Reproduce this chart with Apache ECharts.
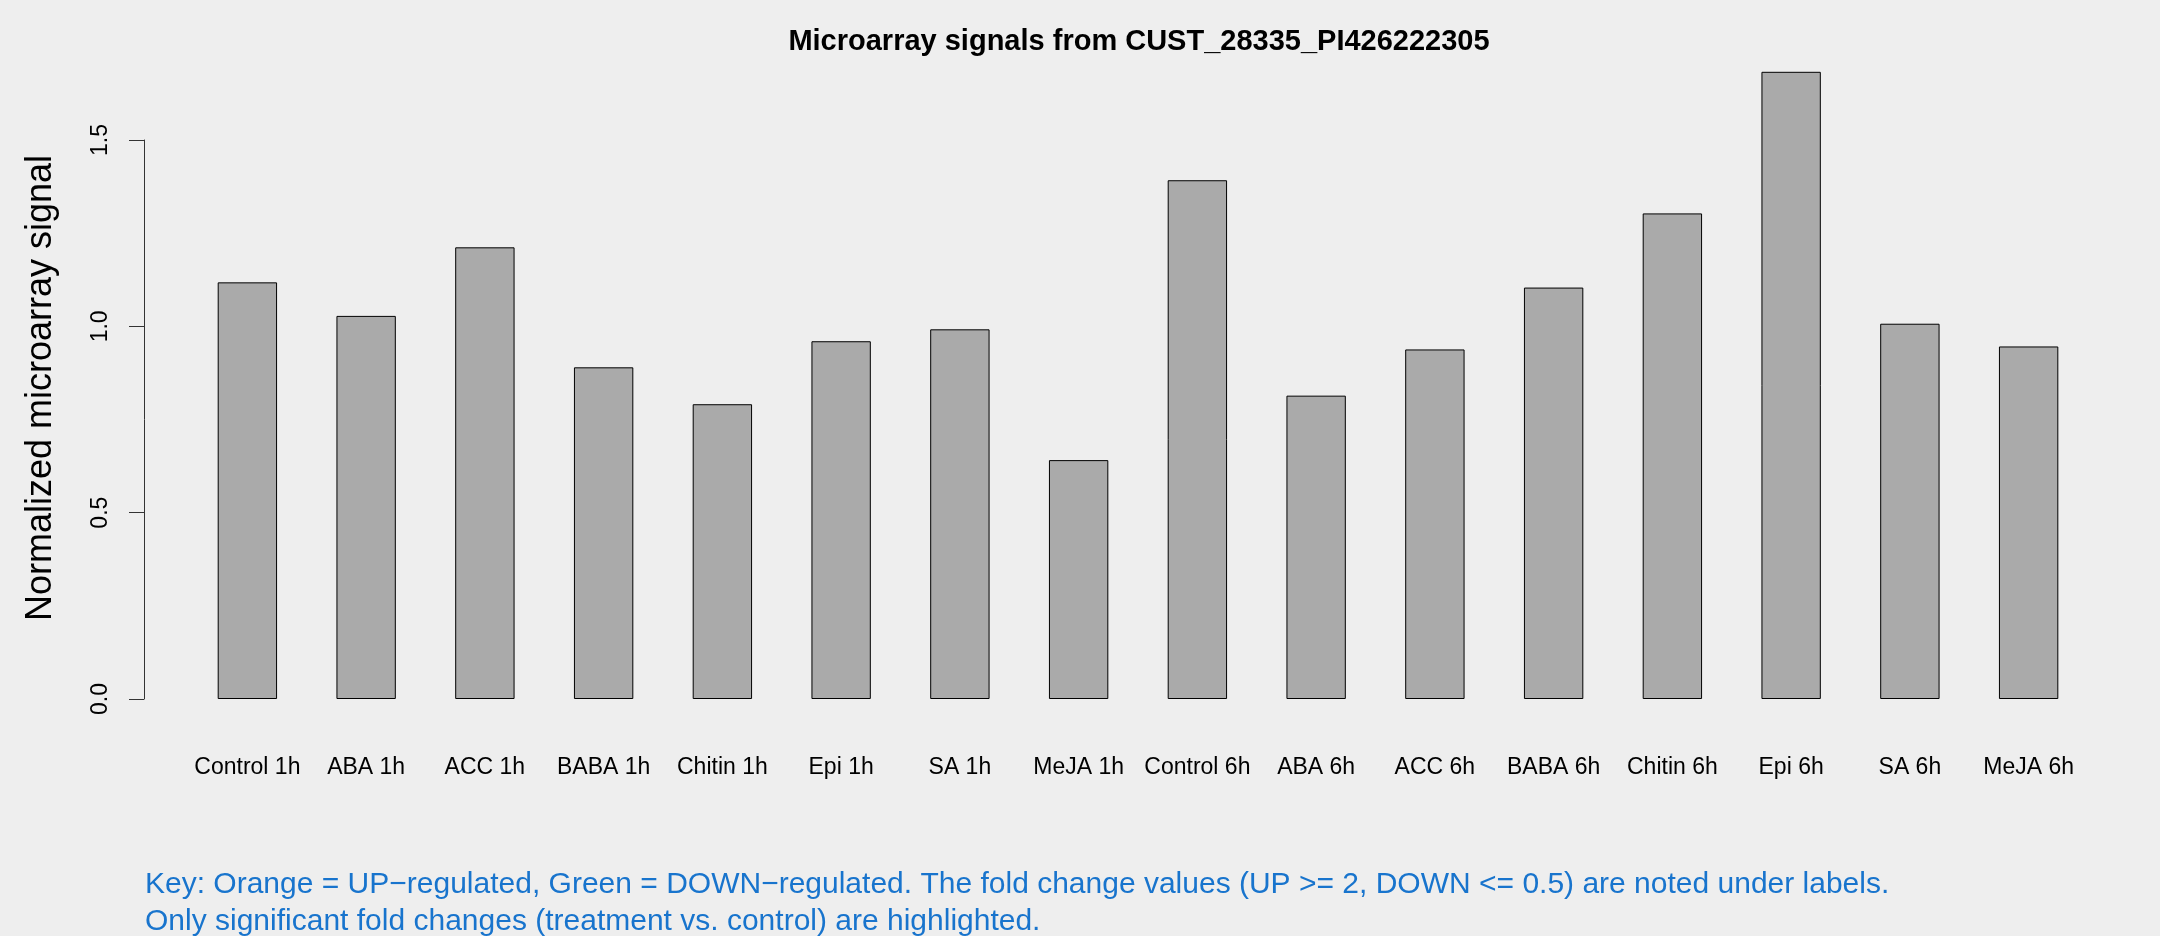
<!DOCTYPE html>
<html>
<head>
<meta charset="utf-8">
<script src="https://cdn.jsdelivr.net/npm/echarts@6/dist/echarts.min.js"></script>
<style>
html,body{margin:0;padding:0;background:#EEEEEE;}
#chart{width:2160px;height:936px;}
</style>
</head>
<body>
<div id="chart"></div>
<script>
const categories = ["Control 1h","ABA 1h","ACC 1h","BABA 1h","Chitin 1h","Epi 1h","SA 1h","MeJA 1h",
  "Control 6h","ABA 6h","ACC 6h","BABA 6h","Chitin 6h","Epi 6h","SA 6h","MeJA 6h"];
const signalValues = [1.118,1.028,1.212,0.890,0.791,0.960,0.992,0.641,
  1.392,0.814,0.938,1.104,1.303,1.683,1.007,0.946];
const yTicks = [0.0,0.5,1.0,1.5];
const titleText = "Microarray signals from CUST_28335_PI426222305";
const yTitle = "Normalized microarray signal";
const keyLines = [
  "Key: Orange = UP\u2212regulated, Green = DOWN\u2212regulated. The fold change values (UP >= 2, DOWN <= 0.5) are noted under labels.",
  "Only significant fold changes (treatment vs. control) are highlighted."
];

const FONT = "'Liberation Sans', Arial, Helvetica, sans-serif";
const chart = echarts.init(document.getElementById('chart'), null, {renderer:'canvas'});
chart.setOption({
  backgroundColor: '#EEEEEE',
  animation: false,
  textStyle: {fontFamily: FONT},
  title: {
    text: titleText,
    left: 1134, top: 22, textAlign: 'center',
    textStyle: {fontFamily: FONT, fontWeight: 'bold', fontSize: 29, color: '#000'}
  },
  grid: {left: 188, right: 72, top: 140, bottom: 237, containLabel: false},
  xAxis: {
    type: 'category',
    data: categories,
    axisLine: {show: false},
    axisTick: {show: false},
    axisLabel: {fontSize: 23, color: '#000', margin: 57, interval: 0, fontFamily: FONT}
  },
  yAxis: {
    type: 'value',
    min: yTicks[0], max: yTicks[yTicks.length-1], interval: 0.5,
    offset: 44,
    splitLine: {show: false},
    axisLine: {show: true, lineStyle: {color: '#333', width: 1}},
    axisTick: {show: true, length: 15, lineStyle: {color: '#333', width: 1}},
    axisLabel: {rotate: 90, fontSize: 23, color: '#000', margin: 32, fontFamily: FONT,
      formatter: v => v.toFixed(1)}
  },
  graphic: [
    {type: 'text', x: 41, y: 388, rotation: Math.PI/2,
     style: {text: yTitle, font: "36px " + FONT, fill: '#000', align: 'center', verticalAlign: 'middle'}},
    {type: 'text', x: 145, y: 885,
     style: {text: keyLines[0], font: "30px " + FONT, fill: '#1874CD', align: 'left', verticalAlign: 'middle'}},
    {type: 'text', x: 145, y: 922,
     style: {text: keyLines[1], font: "30px " + FONT, fill: '#1874CD', align: 'left', verticalAlign: 'middle'}}
  ],
  series: [{
    type: 'bar',
    data: signalValues,
    clip: false,
    barCategoryGap: '50%',
    itemStyle: {color: '#AAAAAA', borderColor: '#000', borderWidth: 1}
  }]
});
</script>
</body>
</html>
